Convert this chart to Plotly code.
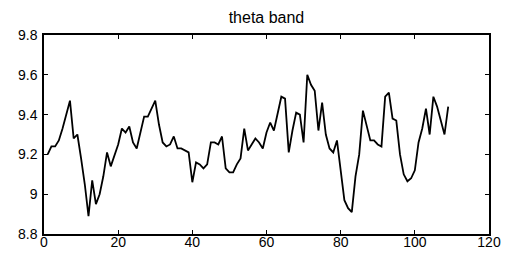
import plotly.graph_objects as go

title_text = "theta band"
x_vals = list(range(1, 110))
y_vals = [
    9.20, 9.24, 9.24, 9.27, 9.33, 9.40, 9.47, 9.28, 9.30, 9.18,
    9.05, 8.89, 9.07, 8.95, 9.00, 9.09, 9.21, 9.14, 9.20, 9.25,
    9.33, 9.31, 9.34, 9.26, 9.23, 9.31, 9.39, 9.39, 9.43, 9.47,
    9.35, 9.26, 9.24, 9.25, 9.29, 9.23, 9.23, 9.22, 9.21, 9.06,
    9.16, 9.15, 9.13, 9.15, 9.26, 9.26, 9.25, 9.29, 9.13, 9.11,
    9.11, 9.15, 9.18, 9.33, 9.22, 9.25, 9.28, 9.26, 9.23, 9.31,
    9.36, 9.32, 9.40, 9.49, 9.48, 9.21, 9.32, 9.41, 9.40, 9.26,
    9.60, 9.55, 9.52, 9.32, 9.46, 9.30, 9.23, 9.21, 9.27, 9.11,
    8.97, 8.93, 8.91, 9.09, 9.20, 9.42, 9.34, 9.27, 9.27, 9.25,
    9.24, 9.49, 9.51, 9.38, 9.37, 9.20, 9.10, 9.065, 9.08, 9.12,
    9.26, 9.33, 9.43, 9.30, 9.49, 9.44, 9.37, 9.30, 9.44,
]
x_tick_vals = [0, 20, 40, 60, 80, 100, 120]
x_tick_text = ["0", "20", "40", "60", "80", "100", "120"]
y_tick_vals = [8.8, 9.0, 9.2, 9.4, 9.6, 9.8]
y_tick_text = ["8.8", "9", "9.2", "9.4", "9.6", "9.8"]

FONT = "Liberation Sans, Arial, sans-serif"

fig = go.Figure()
fig.add_trace(go.Scatter(
    x=x_vals, y=y_vals, mode="lines",
    line=dict(color="black", width=1.8),
    showlegend=False,
))

axis_common = dict(
    showline=True, linecolor="black", linewidth=1.5, mirror="ticks",
    ticks="inside", ticklen=4, tickcolor="black", tickwidth=1,
    showgrid=False, zeroline=False, automargin=False,
    tickfont=dict(family=FONT, size=14, color="black"),
)

# The page body has an 8px margin, so the figure is sized to fit the 514x261 window.
fig.update_layout(
    width=498, height=245,
    margin=dict(l=36, r=17, t=27, b=19, autoexpand=False),
    paper_bgcolor="white", plot_bgcolor="white",
    title=dict(text=title_text, x=0.519, xanchor="center", y=0.962, yanchor="middle",
               font=dict(family=FONT, size=16, color="black")),
    xaxis=dict(range=[0, 120], tickvals=x_tick_vals, ticktext=x_tick_text,
               ticklabelstandoff=-6, **axis_common),
    yaxis=dict(range=[8.8, 9.8], tickvals=y_tick_vals, ticktext=y_tick_text,
               ticklabelstandoff=2, **axis_common),
)

fig.write_html("out.html")
